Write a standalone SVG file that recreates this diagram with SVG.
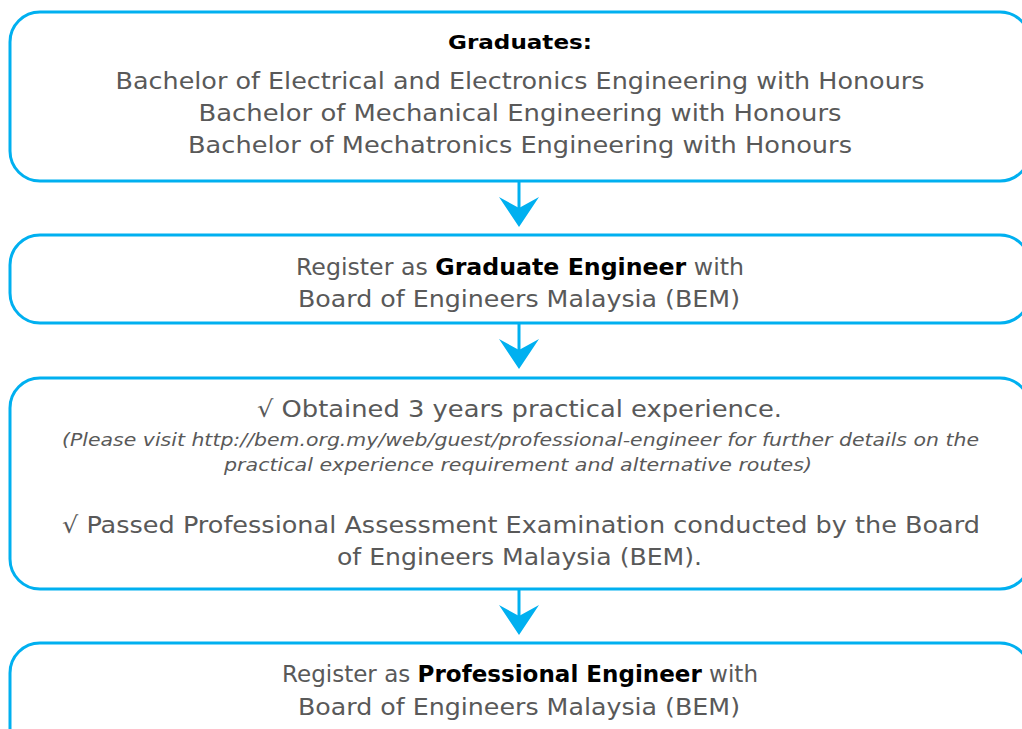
<svg xmlns="http://www.w3.org/2000/svg" width="1022" height="729" viewBox="0 0 1022 729">
<style>
.box{fill:#fff;stroke:#00B0F0;stroke-width:3}
.t{font-family:"DejaVu Sans","Liberation Sans",sans-serif;font-size:23px;fill:#595959;text-anchor:middle}
.it{font-family:"DejaVu Sans","Liberation Sans",sans-serif;font-size:17px;font-style:italic;fill:#595959;text-anchor:middle}
.b{font-weight:bold;fill:#000}
.h{font-family:"DejaVu Sans","Liberation Sans",sans-serif;font-size:20px;font-weight:bold;fill:#000;text-anchor:middle}
.con{stroke:#00B0F0;stroke-width:3;fill:none}
</style>
<defs>
<marker id="ah" viewBox="0 0 30 40" refX="18" refY="20" markerWidth="30" markerHeight="40" markerUnits="userSpaceOnUse" orient="auto">
<path d="M0,0 L30,20 L0,40 L11,20 Z" fill="#00B0F0"/>
</marker>
</defs>
<rect width="1022" height="729" fill="#fff"/>
<g id="connectors">
<path class="con" d="M519,181 V215" marker-end="url(#ah)"/>
<path class="con" d="M519,323 V357" marker-end="url(#ah)"/>
<path class="con" d="M519,589 V623" marker-end="url(#ah)"/>
</g>
<g id="graduates">
<rect class="box" x="10" y="12" width="1020" height="169" rx="30"/>
<text class="h" x="520" y="49" textLength="144" lengthAdjust="spacingAndGlyphs">Graduates:</text>
<text class="t" x="520" y="89" textLength="809" lengthAdjust="spacingAndGlyphs">Bachelor of Electrical and Electronics Engineering with Honours</text>
<text class="t" x="520" y="121" textLength="643" lengthAdjust="spacingAndGlyphs">Bachelor of Mechanical Engineering with Honours</text>
<text class="t" x="520" y="153" textLength="664" lengthAdjust="spacingAndGlyphs">Bachelor of Mechatronics Engineering with Honours</text>
</g>
<g id="graduate-engineer">
<rect class="box" x="10" y="235" width="1020" height="88" rx="30"/>
<text class="t" x="520" y="275" textLength="448" lengthAdjust="spacingAndGlyphs">Register as <tspan class="b">Graduate Engineer</tspan> with</text>
<text class="t" x="519" y="307" textLength="442" lengthAdjust="spacingAndGlyphs">Board of Engineers Malaysia (BEM)</text>
</g>
<g id="requirements">
<rect class="box" x="10" y="378" width="1020" height="211" rx="30"/>
<text class="t" x="519.5" y="417" textLength="525" lengthAdjust="spacingAndGlyphs">√ Obtained 3 years practical experience.</text>
<text class="it" x="520.5" y="446" textLength="917" lengthAdjust="spacingAndGlyphs">(Please visit http://bem.org.my/web/guest/professional-engineer for further details on the</text>
<text class="it" x="518" y="471" textLength="588" lengthAdjust="spacingAndGlyphs">practical experience requirement and alternative routes)</text>
<text class="t" x="521" y="533" textLength="918" lengthAdjust="spacingAndGlyphs">√ Passed Professional Assessment Examination conducted by the Board</text>
<text class="t" x="519.5" y="565" textLength="365" lengthAdjust="spacingAndGlyphs">of Engineers Malaysia (BEM).</text>
</g>
<g id="professional-engineer">
<rect class="box" x="10" y="643" width="1020" height="120" rx="30"/>
<text class="t" x="520" y="682" textLength="476" lengthAdjust="spacingAndGlyphs">Register as <tspan class="b">Professional Engineer</tspan> with</text>
<text class="t" x="519" y="715" textLength="442" lengthAdjust="spacingAndGlyphs">Board of Engineers Malaysia (BEM)</text>
</g>
</svg>
